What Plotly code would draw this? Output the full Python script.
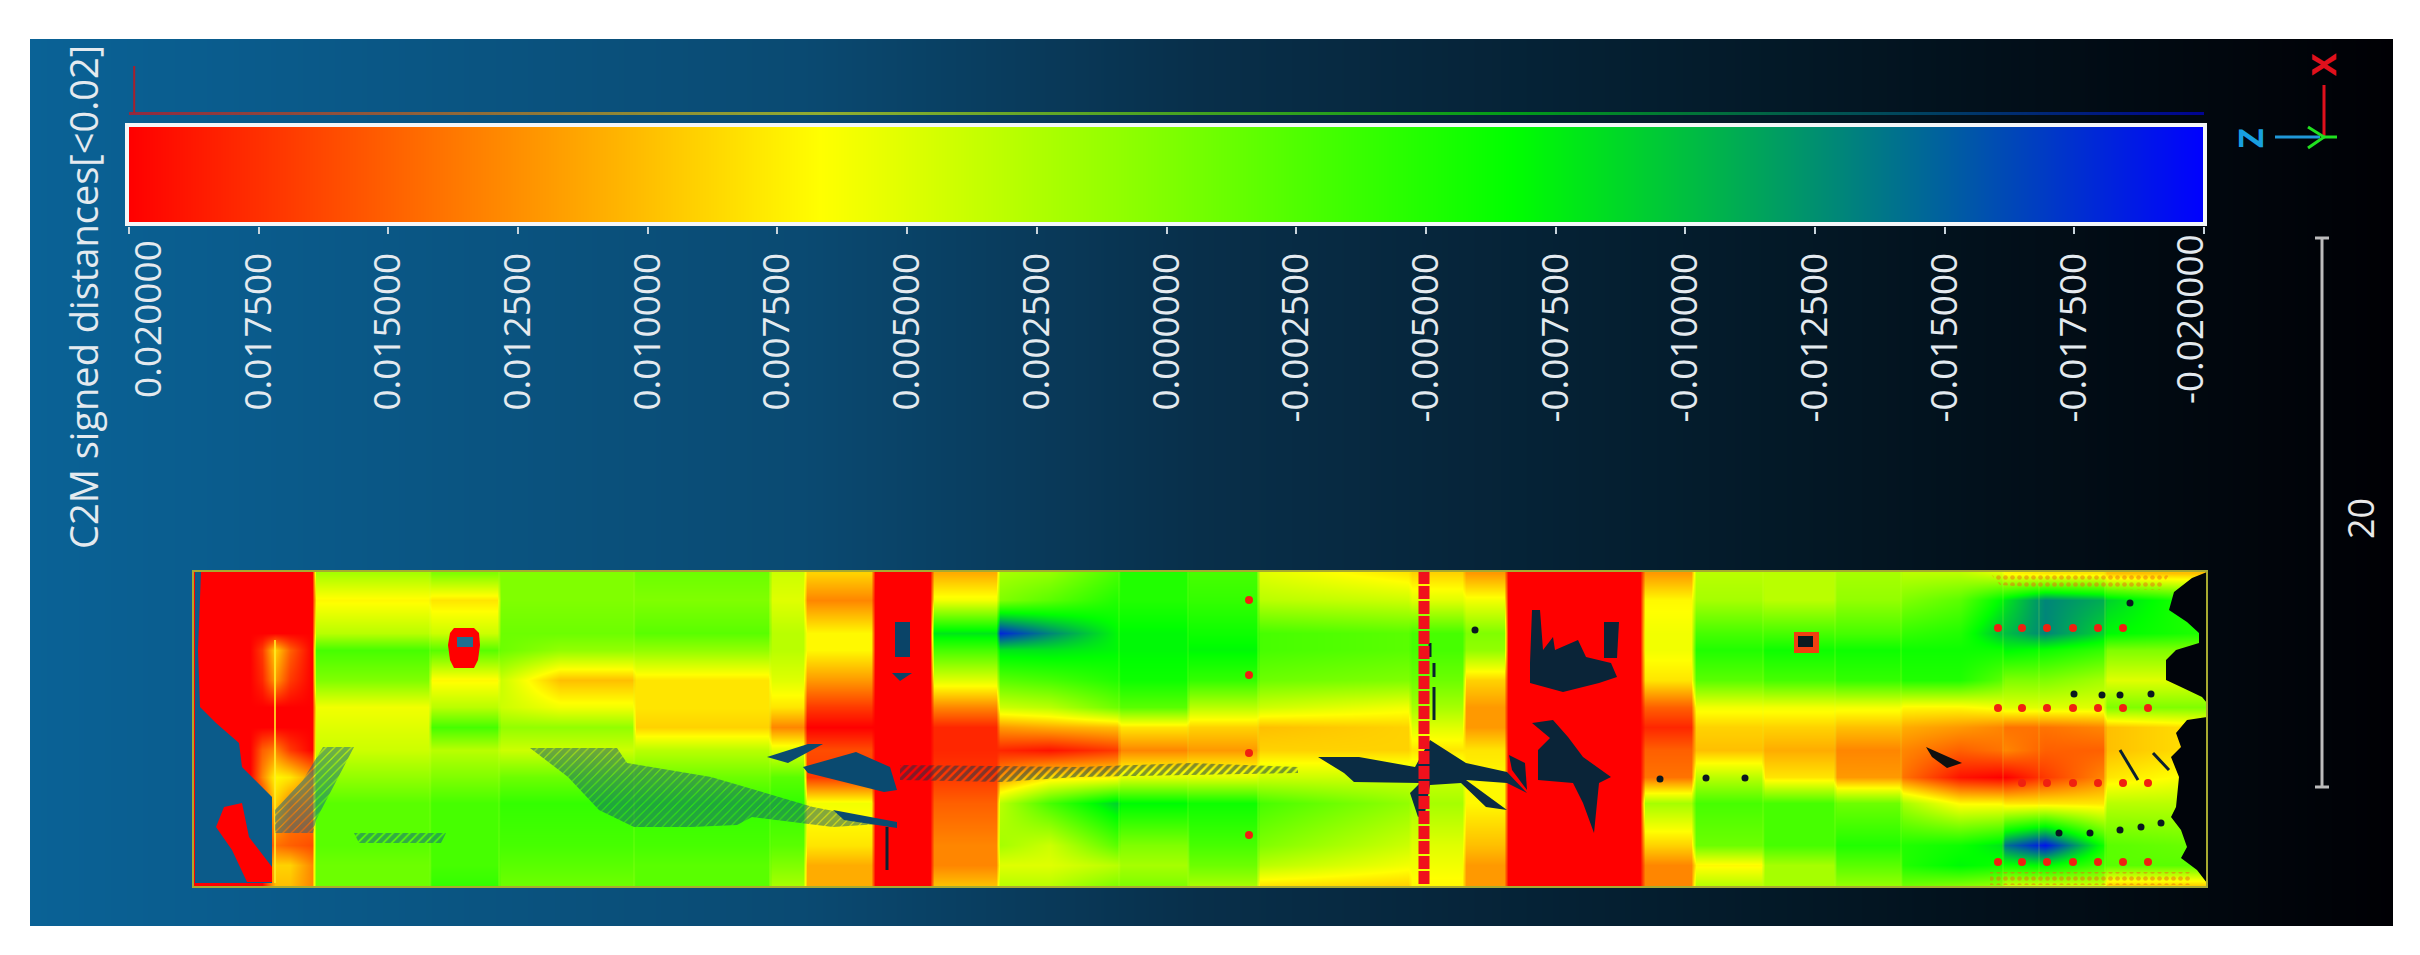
import numpy as np
import plotly.graph_objects as go

W, H = 2420, 955

# colour scale of the signed distances, metres
SCALE_COLORS = [[0.0, "#0000ff"], [1 / 3, "#00ff00"], [2 / 3, "#ffff00"], [1.0, "#ff0000"]]
TICK_VALUES = [0.02, 0.0175, 0.015, 0.0125, 0.01, 0.0075, 0.005, 0.0025, 0.0,
               -0.0025, -0.005, -0.0075, -0.01, -0.0125, -0.015, -0.0175, -0.02]
TICK_LABELS = ["0.020000", "0.017500", "0.015000", "0.012500", "0.010000", "0.007500",
               "0.005000", "0.002500", "0.000000", "-0.002500", "-0.005000", "-0.007500",
               "-0.010000", "-0.012500", "-0.015000", "-0.017500", "-0.020000"]
SCALE_TITLE = "C2M signed distances[<0.02]"
BAR_LABEL = "20"

# background gradient, left to right
BG_X = [30, 800, 1200, 1800, 2393]
BG_LEVEL = [0, 1, 2, 3, 4]
BG_COLORS = [[0, "#0a6296"], [0.25, "#0a4a72"], [0.5, "#082f4a"], [0.75, "#031826"], [1, "#000004"]]

# surface: distance in mm at each column / row position
ROW_Y = [573, 600, 633, 650, 680, 707, 727, 750, 777, 803, 845, 865, 885]
COL_X = [193, 250, 262, 275, 290, 312,
         316, 428, 432, 497, 501, 560, 632, 636, 768, 772, 803, 807, 871, 875, 930,
         934, 996, 1000, 1050, 1117, 1121, 1186, 1190, 1256, 1260, 1408, 1412, 1462, 1466, 1504,
         1508, 1640, 1645, 1691, 1696, 1761, 1765, 1833, 1837, 1899,
         1903, 1960, 2001, 2005, 2045, 2103, 2107, 2206]
RED = [20] * 13
A = [2, 7, 3, -3, 0, 6, 5, 4, 1, -2, -2, -1, -1]
B = [0, 8, 4, -2, 7, 3, -3, 3, 0, -3, -3, -3, -4]
D = [-1, 0, -2, 1, 8, 8, 9, 3, -1, -4, -3, -2, -2]
E = [4, 5, 3, 3, 5, 8, 13, 5, -2, -4, -2, 0, 2]
F = [9, 13, 7, 7, 12, 17, 20, 16, 17, 6, 8, 11, 11]
G = [11, 6, -8, -3, 5, 13, 18, 18, 17, 15, 13, 13, 10]
I = [-5, -5, -7, -7, -6, -2, 8, 13, 5, -7, 0, 2, 0]
J = [-3, -4, -6, -7, -4, 3, 9, 12, 5, -6, -3, -1, 2]
L = [9, 5, -3, -3, -1, 2, 5, 8, 4, 2, 5, 6, 7]
M = [12, 6, 0, 1, 9, 12, 12, 8, 7, 7, 10, 12, 12]
N = [12, 7, 6, 6, 8, 15, 18, 15, 14, 2, 9, 13, 13]
O = [3, 2, -3, -5, -2, 6, 9, 10, 3, -3, -1, 7, 3]
P = [3, 3, -3, -6, -3, 6, 9, 11, 8, -3, -3, 2, 2]
Q = [2, 1, -3, -6, -4, 6, 10, 13, 12, -1, -5, -2, 1]
COL_MM = [
    RED, RED,
    [20, 20, 20, 17, 18, 20, 20, 15, 13, 18, 20, 20, 20],
    [20, 20, 20, 9, 12, 20, 20, 13, 7, 9, 14, 9, 10],
    [20, 20, 20, 15, 17, 20, 20, 17, 8, 13, 15, 9, 10],
    [20, 20, 20, 20, 20, 20, 20, 20, 12, 13, 16, 13, 13],
    A, A, B, B,
    [0, 0, -1, -1, 4, 4, 1, 4, -1, -4, -3, -2, -1],
    [0, 0, -1, 1, 10, 6, 1, 4, -1, -4, -3, -2, -1],
    [0, 0, -1, 1, 10, 6, 1, 4, -1, -4, -3, -2, -1],
    D, D, E, E, F, F, RED, RED,
    G, G,
    [2, 0, -18, -8, -2, 4, 12, 18, 12, 3, 2, 5, 3],
    [1, -2, -13, -8, -3, 3, 11, 19, 8, -3, 4, 5, 3],
    [-3, -5, -7, -7, -5, -1, 10, 17, 7, -9, -2, 3, 0],
    I, I, J, J,
    [5, 3, -3, -3, -1, 4, 10, 9, 4, -3, 0, 3, 8],
    [8, 4, -2, -2, 0, 6, 9, 9, 4, 1, 4, 6, 9],
    L, L, M, M, RED, RED, N, N, O, O, P, P, Q, Q,
    [3, 0, -4, -6, -5, 7, 11, 13, 14, 2, -5, -5, -1],
    [3, -2, -5, -6, -5, 7, 12, 15, 19, 7, -6, -7, 0],
    [5, -7, -10, -6, -2, 6, 13, 14, 20, 7, -8, -6, 1],
    [7, -8, -10, -7, 0, 5, 14, 13, 20, 8, -14, -6, 4],
    [8, -13, -13, -6, 0, 5, 14, 15, 17, 8, -19, -7, 4],
    [8, -11, -9, -4, 2, 5, 13, 15, 13, 8, -6, -3, 4],
    [10, -9, -7, 0, 5, 0, 10, 10, 8, 3, -2, -2, 9],
    [10, -4, -5, 0, 5, 0, 8, 8, 6, 3, -1, -2, 9],
]

# faint seams between the scanned panels
SEAM_X = [430, 430, None, 499, 499, None, 634, 634, None, 770, 770, None, 1119, 1119, None, 1188, 1188, None,
          1258, 1258, None, 1763, 1763, None, 1835, 1835, None, 1901, 1901, None, 2003, 2003, None, 2039, 2039,
          None, 2105, 2105]
SEAM_Y = [572, 886, None] * 12 + [572, 886]

# holes in the cloud: (colour, pattern solidity or 0 for solid, x, y)
HOLES = [
    ("#0b5b8a", 0, [195, 201, 198, 200, 216, 239, 242, 272, 272, 195],
     [572, 572, 650, 707, 723, 743, 767, 797, 883, 883]),
    ("#ff0000", 0, [216, 224, 242, 249, 272, 272, 247, 232], [827, 807, 803, 837, 867, 882, 882, 850]),
    ("#0d5f8c", 0.85, [323, 354, 316, 313, 275, 275, 303], [747, 747, 820, 833, 833, 810, 780]),
    ("#0b4f78", 0.88, [530, 617, 627, 711, 813, 895, 833, 752, 737, 691, 634, 599, 568],
     [748, 748, 763, 777, 807, 823, 827, 817, 825, 827, 827, 810, 777]),
    ("#0b5a88", 0.7, [354, 446, 441, 359], [833, 833, 843, 843]),
    ("#0a4a70", 0, [767, 808, 823, 788], [757, 744, 744, 763]),
    ("#0a4a70", 0, [803, 856, 890, 897, 884, 808], [767, 752, 767, 790, 792, 773]),
    ("#0a4a70", 0, [833, 897, 897, 844], [810, 822, 828, 820]),
    ("#0a4468", 0, [895, 910, 910, 895], [622, 622, 657, 657]),
    ("#0a4468", 0, [892, 912, 900], [673, 673, 681]),
    ("#08344f", 0.6, [900, 1078, 1191, 1298, 1298, 1078, 1002, 900], [765, 767, 763, 767, 773, 777, 782, 780]),
    ("#0a2c44", 0, [1318, 1359, 1415, 1430, 1466, 1507, 1527, 1507, 1466, 1507, 1486, 1461, 1430, 1425,
                    1418, 1410, 1420, 1354, 1344],
     [757, 757, 767, 740, 763, 772, 793, 783, 780, 810, 807, 783, 785, 813, 817, 793, 783, 782, 773]),
    ("#0a2438", 0, [1532, 1540, 1543, 1553, 1555, 1578, 1586, 1611, 1617, 1599, 1563, 1530, 1530],
     [610, 610, 650, 637, 650, 640, 657, 663, 677, 683, 692, 683, 663]),
    ("#0a2438", 0, [1604, 1619, 1617, 1604], [622, 622, 658, 658]),
    ("#0a2438", 0, [1532, 1553, 1568, 1583, 1611, 1599, 1594, 1583, 1573, 1538, 1538, 1550],
     [723, 720, 737, 757, 777, 783, 833, 803, 783, 780, 750, 738]),
    ("#0a2438", 0, [1509, 1525, 1527, 1512], [755, 763, 790, 770]),
    ("#00040a", 0, [2207, 2192, 2174, 2169, 2187, 2199, 2199, 2176, 2166, 2166, 2181, 2202, 2207, 2207, 2187,
                    2176, 2181, 2171, 2179, 2176, 2171, 2181, 2187, 2181, 2197, 2207],
     [572, 578, 592, 610, 622, 633, 643, 650, 660, 680, 687, 697, 703, 717, 720, 733, 747, 757, 777, 807, 817,
      830, 847, 858, 870, 883]),
    ("#101010", 0, [1926, 1962, 1947, 1932], [747, 763, 768, 757]),
    ("#ff0000", 0, [454, 474, 479, 480, 478, 474, 454, 450, 448, 450],
     [628, 628, 633, 645, 660, 668, 668, 660, 645, 633]),
    ("#1f6f90", 0, [457, 473, 473, 457], [637, 637, 647, 647]),
    ("#f04010", 0, [1794, 1819, 1819, 1794], [632, 632, 653, 653]),
    ("#0a1a20", 0, [1798, 1813, 1813, 1798], [636, 636, 647, 647]),
]

# orange noise along the far end of the cloud
NOISE_X = [[1990, 2170, 2160, 2040, 2000], [1990, 2190, 2190, 1990]]
NOISE_Y = [[573, 573, 590, 588, 585], [872, 872, 885, 885]]

# small marks on the cloud
RED_DOT_X = [1249, 1249, 1249, 1249,
             1998, 2022, 2047, 2073, 2098, 2123,
             1998, 2022, 2047, 2073, 2098, 2123, 2148,
             2022, 2047, 2073, 2098, 2123, 2148,
             1998, 2022, 2047, 2073, 2098, 2123, 2148]
RED_DOT_Y = [600, 675, 753, 835,
             628, 628, 628, 628, 628, 628,
             708, 708, 708, 708, 708, 708, 708,
             783, 783, 783, 783, 783, 783,
             862, 862, 862, 862, 862, 862, 862]
DARK_DOT_X = [1475, 1660, 1706, 1745, 2074, 2102, 2120, 2151, 2059, 2090, 2120, 2141, 2161, 2130]
DARK_DOT_Y = [630, 779, 778, 778, 694, 695, 695, 694, 833, 833, 830, 827, 823, 603]
DARK_LINE_X = [2120, 2138, None, 2153, 2169, None, 887, 887, None, 1430, 1430, None, 1434, 1434, None, 1434, 1434]
DARK_LINE_Y = [750, 780, None, 753, 770, None, 827, 870, None, 643, 657, None, 663, 677, None, 687, 720]
YELLOW_LINE_X = [275, 275]
YELLOW_LINE_Y = [640, 883]
STRIP_X = [1424, 1424]
STRIP_Y = [571, 887]

# colour bar histogram
HIST_X = [0.0199, 0.0199]
HIST_Y = [113, 66]

# scale bar and axis triad
BAR_X = [2322, 2322, None, 2315, 2329, None, 2315, 2329]
BAR_Y = [238, 787, None, 238, 238, None, 787, 787]
TRIAD_X_X, TRIAD_X_Y = [2324, 2324], [85, 136]
TRIAD_Z_X, TRIAD_Z_Y = [2275, 2320], [137, 137]
TRIAD_Y_X, TRIAD_Y_Y = [2308, 2324, 2308, None, 2324, 2337], [127, 137, 148, None, 137, 137]


def dom(a, b, size):
    return [a / size, b / size]


def ydom(top, bottom):
    return [1 - bottom / H, 1 - top / H]


def hidden(**kw):
    return dict(visible=False, fixedrange=True, **kw)


def overlay_line(xs, ys, color, width, **line_kw):
    fig.add_trace(go.Scatter(x=xs, y=ys, mode="lines", line=dict(color=color, width=width, **line_kw),
                             hoverinfo="skip", xaxis="x4", yaxis="y4"))


fig = go.Figure()

# background
fig.add_trace(go.Heatmap(x=BG_X, y=[39, 926], z=[BG_LEVEL, BG_LEVEL], zsmooth="best",
                         colorscale=BG_COLORS, zmin=0, zmax=4, showscale=False,
                         hoverinfo="skip", xaxis="x", yaxis="y"))

# cloud
z_mm = np.array(COL_MM).T
fig.add_trace(go.Heatmap(x=COL_X, y=ROW_Y, z=z_mm / 1000, zsmooth="best",
                         colorscale=SCALE_COLORS, zmin=-0.02, zmax=0.02, showscale=False,
                         hoverinfo="skip", xaxis="x2", yaxis="y2"))

# colour bar with its ticks and histogram line
fig.add_trace(go.Heatmap(x=TICK_VALUES, y=[126, 176, 226], z=[TICK_VALUES, TICK_VALUES], zsmooth="best",
                         colorscale=SCALE_COLORS, zmin=-0.02, zmax=0.02, showscale=False,
                         hoverinfo="skip", xaxis="x3", yaxis="y3"))
fig.add_trace(go.Heatmap(x=TICK_VALUES, y=[112, 113.5, 115], z=[TICK_VALUES, TICK_VALUES], zsmooth="best",
                         colorscale=SCALE_COLORS, zmin=-0.02, zmax=0.02, showscale=False, opacity=0.55,
                         hoverinfo="skip", xaxis="x3", yaxis="y3"))
fig.add_trace(go.Scatter(x=HIST_X, y=HIST_Y, mode="lines", line=dict(color="#a8202c", width=2),
                         cliponaxis=False, hoverinfo="skip", xaxis="x3", yaxis="y3"))

# seams, holes and marks, on a full canvas axis pair
overlay_line(SEAM_X, SEAM_Y, "rgba(215,255,60,0.25)", 1)
overlay_line(YELLOW_LINE_X, YELLOW_LINE_Y, "rgba(255,235,40,0.8)", 2)
for color, solidity, xs, ys in HOLES:
    extra = {}
    if solidity:
        extra["fillpattern"] = dict(shape="/", fgcolor=color, bgcolor="rgba(0,0,0,0)", size=6, solidity=solidity)
    fig.add_trace(go.Scatter(x=xs, y=ys, mode="lines", fill="toself", fillcolor=color,
                             line=dict(width=0), hoverinfo="skip", xaxis="x4", yaxis="y4", **extra))
for xs, ys in zip(NOISE_X, NOISE_Y):
    fig.add_trace(go.Scatter(x=xs, y=ys, mode="lines", fill="toself", line=dict(width=0),
                             fillpattern=dict(shape=".", fgcolor="#ee6a10", bgcolor="rgba(0,0,0,0)",
                                              size=7, solidity=0.35),
                             hoverinfo="skip", xaxis="x4", yaxis="y4"))
overlay_line(DARK_LINE_X, DARK_LINE_Y, "#0a2030", 3)
overlay_line(STRIP_X, STRIP_Y, "#f0101c", 11, dash="13px,2px")
fig.add_trace(go.Scatter(x=RED_DOT_X, y=RED_DOT_Y, mode="markers",
                         marker=dict(color="#f02010", size=8, line=dict(width=0)),
                         hoverinfo="skip", xaxis="x4", yaxis="y4"))
fig.add_trace(go.Scatter(x=DARK_DOT_X, y=DARK_DOT_Y, mode="markers",
                         marker=dict(color="#0a1820", size=7, line=dict(width=0)),
                         hoverinfo="skip", xaxis="x4", yaxis="y4"))

# scale bar, triad
overlay_line(BAR_X, BAR_Y, "#bcbcbc", 3)
overlay_line(TRIAD_X_X, TRIAD_X_Y, "#e0101c", 3)
overlay_line(TRIAD_Z_X, TRIAD_Z_Y, "#2098d8", 3)
overlay_line(TRIAD_Y_X, TRIAD_Y_Y, "#20e020", 3)

FONT = "Open Sans, Noto Sans, sans-serif"
LABEL_COLOR = "#e4eaef"
axis_tick_text = [""] + TICK_LABELS[1:-1] + [""]

fig.update_layout(
    width=W, height=H,
    margin=dict(l=0, r=0, t=0, b=0),
    autosize=False,
    showlegend=False,
    paper_bgcolor="white",
    plot_bgcolor="rgba(0,0,0,0)",
    xaxis=hidden(domain=dom(30, 2393, W), range=[30, 2393]),
    yaxis=hidden(domain=ydom(39, 926), range=[926, 39]),
    xaxis2=hidden(domain=dom(193, 2207, W), range=[193, 2207], anchor="y2"),
    yaxis2=hidden(domain=ydom(571, 887), range=[887, 571], anchor="x2"),
    xaxis3=dict(domain=dom(129, 2204, W), range=[0.02, -0.02], anchor="y3", side="bottom", fixedrange=True,
                tickmode="array", tickvals=TICK_VALUES, ticktext=axis_tick_text,
                ticks="outside", ticklen=7, tickwidth=2, tickcolor="#c8d4dc",
                tickangle=-90, ticklabelstandoff=4,
                tickfont=dict(family=FONT, size=37, color=LABEL_COLOR),
                showgrid=False, zeroline=False, showline=False, automargin=False),
    yaxis3=hidden(domain=ydom(60, 226), range=[226, 60], anchor="x3"),
    xaxis4=hidden(domain=[0, 1], range=[0, W], anchor="y4"),
    yaxis4=hidden(domain=[0, 1], range=[H, 0], anchor="x4"),
)

# frames
fig.add_shape(type="rect", xref="x4", yref="y4", x0=127, x1=2205, y0=125, y1=224,
              line=dict(color="#f4f6f8", width=4))
fig.add_shape(type="rect", xref="x4", yref="y4", x0=193, x1=2207, y0=571, y1=887,
              line=dict(color="#a8aa30", width=2))

notes = [
    dict(text=SCALE_TITLE, x=83, y=297, size=38, color=LABEL_COLOR),
    dict(text=TICK_LABELS[0], x=146, y=319, size=37, color=LABEL_COLOR),
    dict(text=TICK_LABELS[-1], x=2188, y=319, size=37, color=LABEL_COLOR),
    dict(text=BAR_LABEL, x=2360, y=519, size=36, color="#e8e8e8"),
    dict(text="<b>X</b>", x=2323, y=65, size=34, color="#e0101c"),
    dict(text="<b>Z</b>", x=2250, y=138, size=34, color="#18a0e0"),
]
for n in notes:
    fig.add_annotation(text=n["text"], x=n["x"], y=n["y"], xref="x4", yref="y4", showarrow=False,
                       textangle=-90, xanchor="center", yanchor="middle",
                       font=dict(family=FONT, size=n["size"], color=n["color"]))

# the page's default body margin would push the figure off by 8px
fig.write_html("out.html", config=dict(displayModeBar=False),
               post_script="document.body.style.margin='0';")
